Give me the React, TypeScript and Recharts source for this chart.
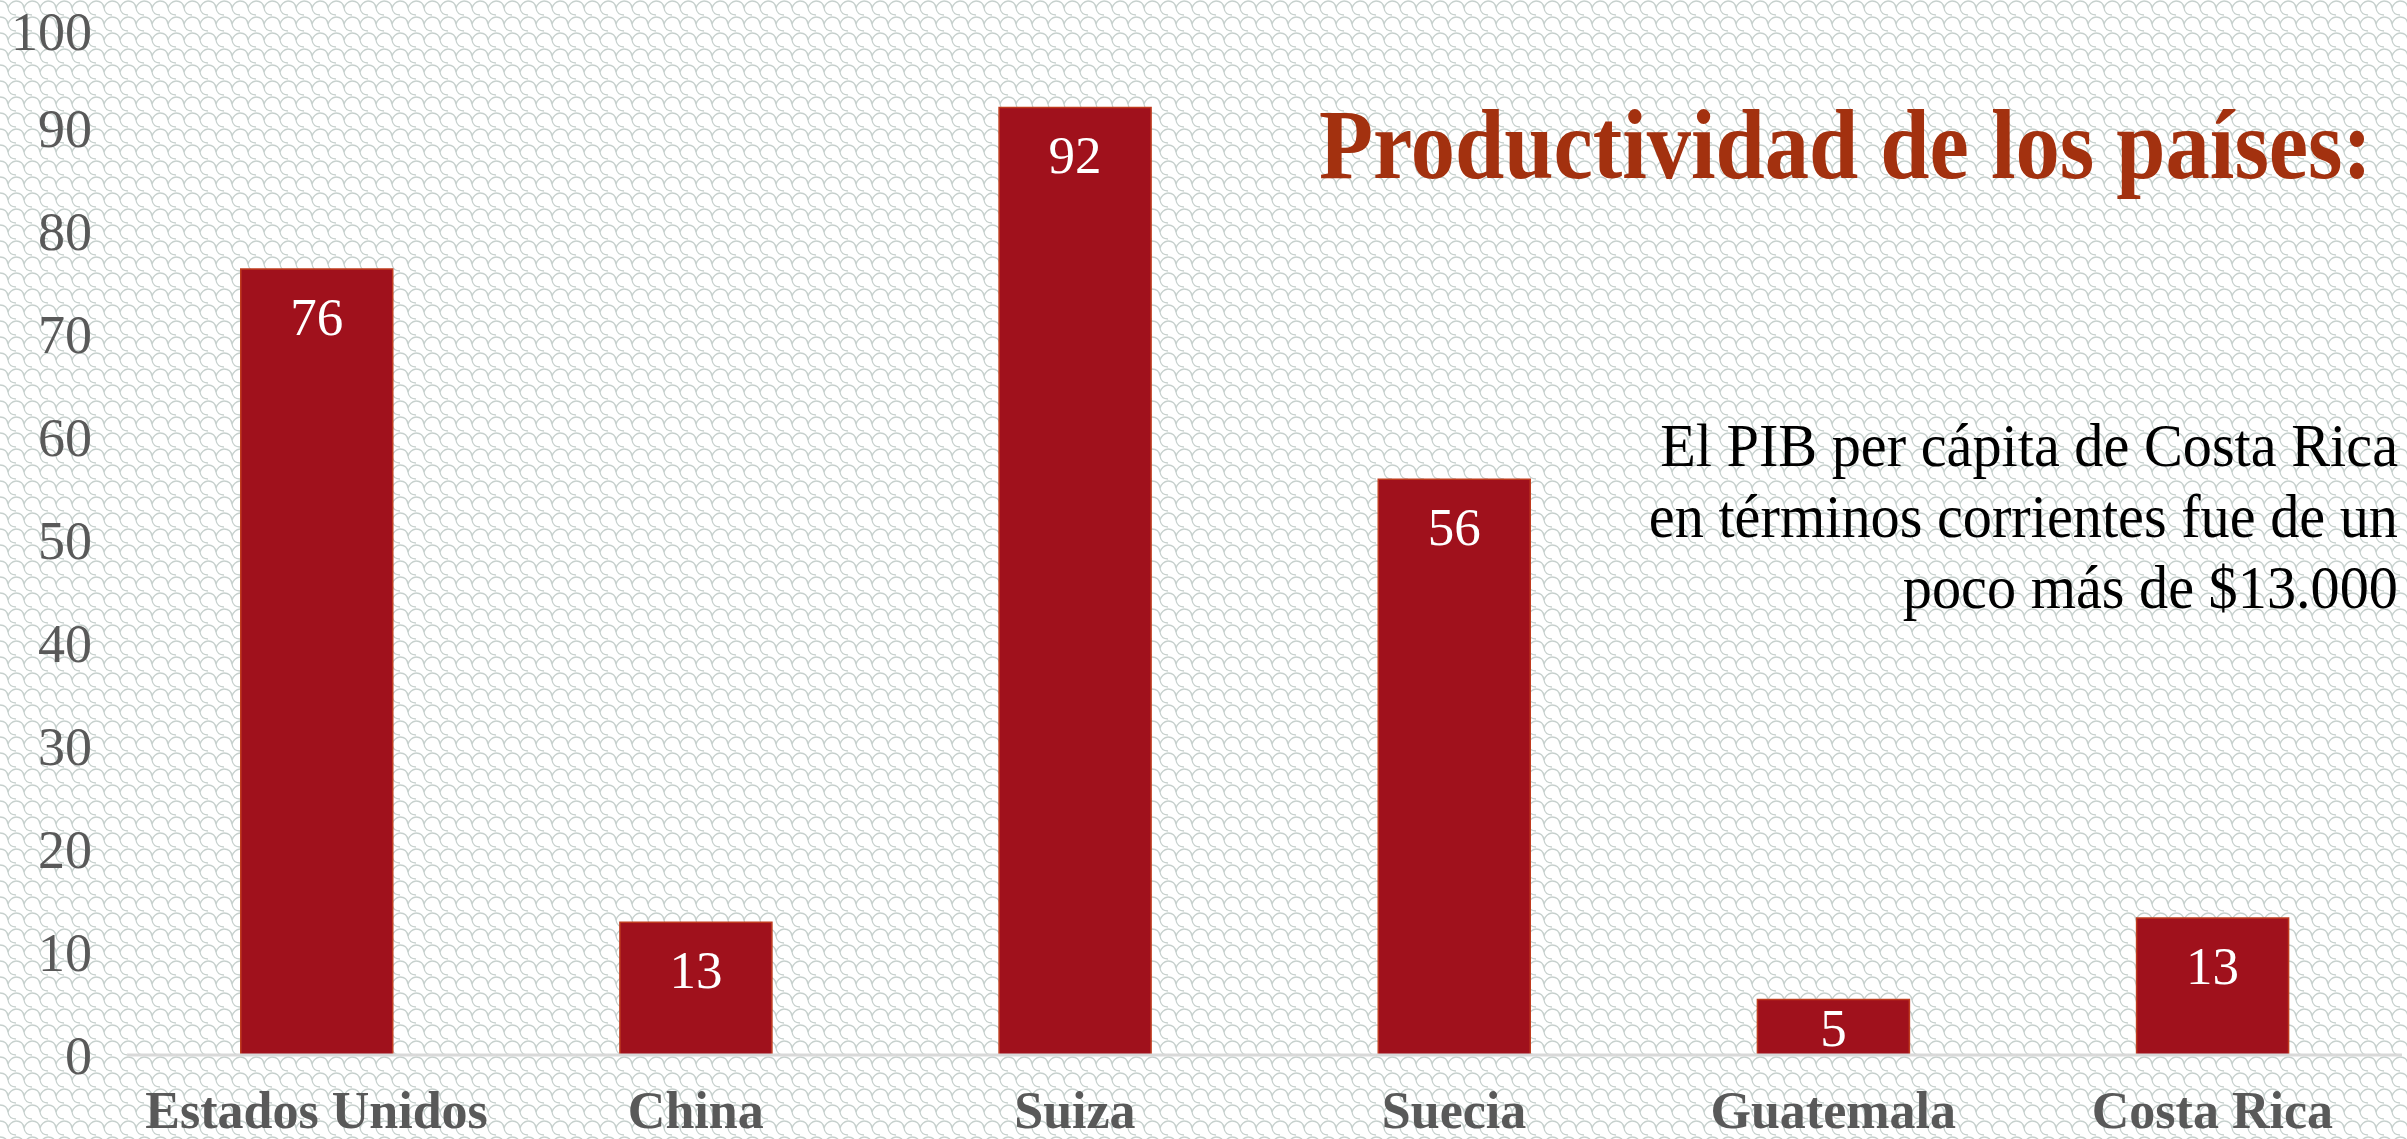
import React from "react";
import { Bar, BarChart, LabelList, XAxis, YAxis } from "recharts";

const countries = ["Estados Unidos", "China", "Suiza", "Suecia", "Guatemala", "Costa Rica"];
const productivity = [76.3, 12.9, 92, 55.9, 5.4, 13.3];
const yTicks = [0, 10, 20, 30, 40, 50, 60, 70, 80, 90, 100];

const title = "Productividad de los países:";
const noteLines = [
  "El PIB per cápita de Costa Rica",
  "en términos corrientes fue de un",
  "poco más de $13.000",
];

const data = countries.map((name, i) => ({ name, value: productivity[i] }));

const W = 2407;
const H = 1139;
const FONT = "'Liberation Serif', 'Times New Roman', serif";

const InsideLabel = (props: any) => {
  const { x, y, width, height, value } = props;
  const cy = y + Math.min(47, height / 2);
  return (
    <text
      x={x + width / 2}
      y={cy}
      dy="0.35em"
      textAnchor="middle"
      fill="#ffffff"
      fontSize={53}
      fontFamily={FONT}
    >
      {Math.round(value)}
    </text>
  );
};

export default function App() {
  return (
    <div style={{ position: "relative", width: W, height: H, background: "#fff" }}>
      <style>{`body{margin:0}`}</style>
      <svg width={W} height={H} style={{ position: "absolute", left: 0, top: 0 }}>
        <defs>
          <pattern id="scales" width="16" height="16" patternUnits="userSpaceOnUse">
            <path
              d="M0 1 Q7 1 8 8 Q9 15 16 15"
              fill="none"
              stroke="#c6d0cd"
              strokeWidth={1.3}
            />
            <path d="M8 8 Q10 2 16 1" fill="none" stroke="#c6d0cd" strokeWidth={1.3} />
          </pattern>
        </defs>
        <rect width={W} height={H} fill="url(#scales)" />
      </svg>
      <div style={{ position: "absolute", left: 0, top: 0 }}>
        <BarChart
          width={W}
          height={H}
          data={data}
          margin={{ top: 25, right: 5, left: 0, bottom: 0 }}
          barCategoryGap="30%"
        >
          <XAxis
            dataKey="name"
            height={84}
            axisLine={{ stroke: "#d9d9d9", strokeWidth: 3 }}
            tickLine={false}
            tickSize={0}
            tickMargin={36}
            interval={0}
            tick={{ fontSize: 52, fontWeight: 700, fill: "#595959", fontFamily: FONT }}
          />
          <YAxis
            width={127}
            domain={[0, 100]}
            ticks={yTicks}
            axisLine={false}
            tickLine={false}
            tickSize={0}
            tickMargin={35}
            tick={{ fontSize: 54, fill: "#595959", fontFamily: FONT }}
          />
          <Bar
            dataKey="value"
            fill="#a0111c"
            stroke="#bf3b1e"
            strokeWidth={1.5}
            isAnimationActive={false}
          >
            <LabelList dataKey="value" content={InsideLabel} />
          </Bar>
        </BarChart>
      </div>
      <svg
        width={W}
        height={H}
        style={{ position: "absolute", left: 0, top: 0, pointerEvents: "none" }}
      >
        <text
          transform="translate(2372,178) scale(0.885,1)"
          x={0}
          y={0}
          textAnchor="end"
          fontSize={100}
          fontWeight={700}
          fill="#a3310f"
          fontFamily={FONT}
        >
          {title}
        </text>
        {noteLines.map((line, i) => (
          <text
            key={line}
            transform={`translate(2398,${466 + i * 71}) scale(0.94,1)`}
            x={0}
            y={0}
            textAnchor="end"
            fontSize={62}
            fill="#000"
            fontFamily={FONT}
          >
            {line}
          </text>
        ))}
      </svg>
    </div>
  );
}
